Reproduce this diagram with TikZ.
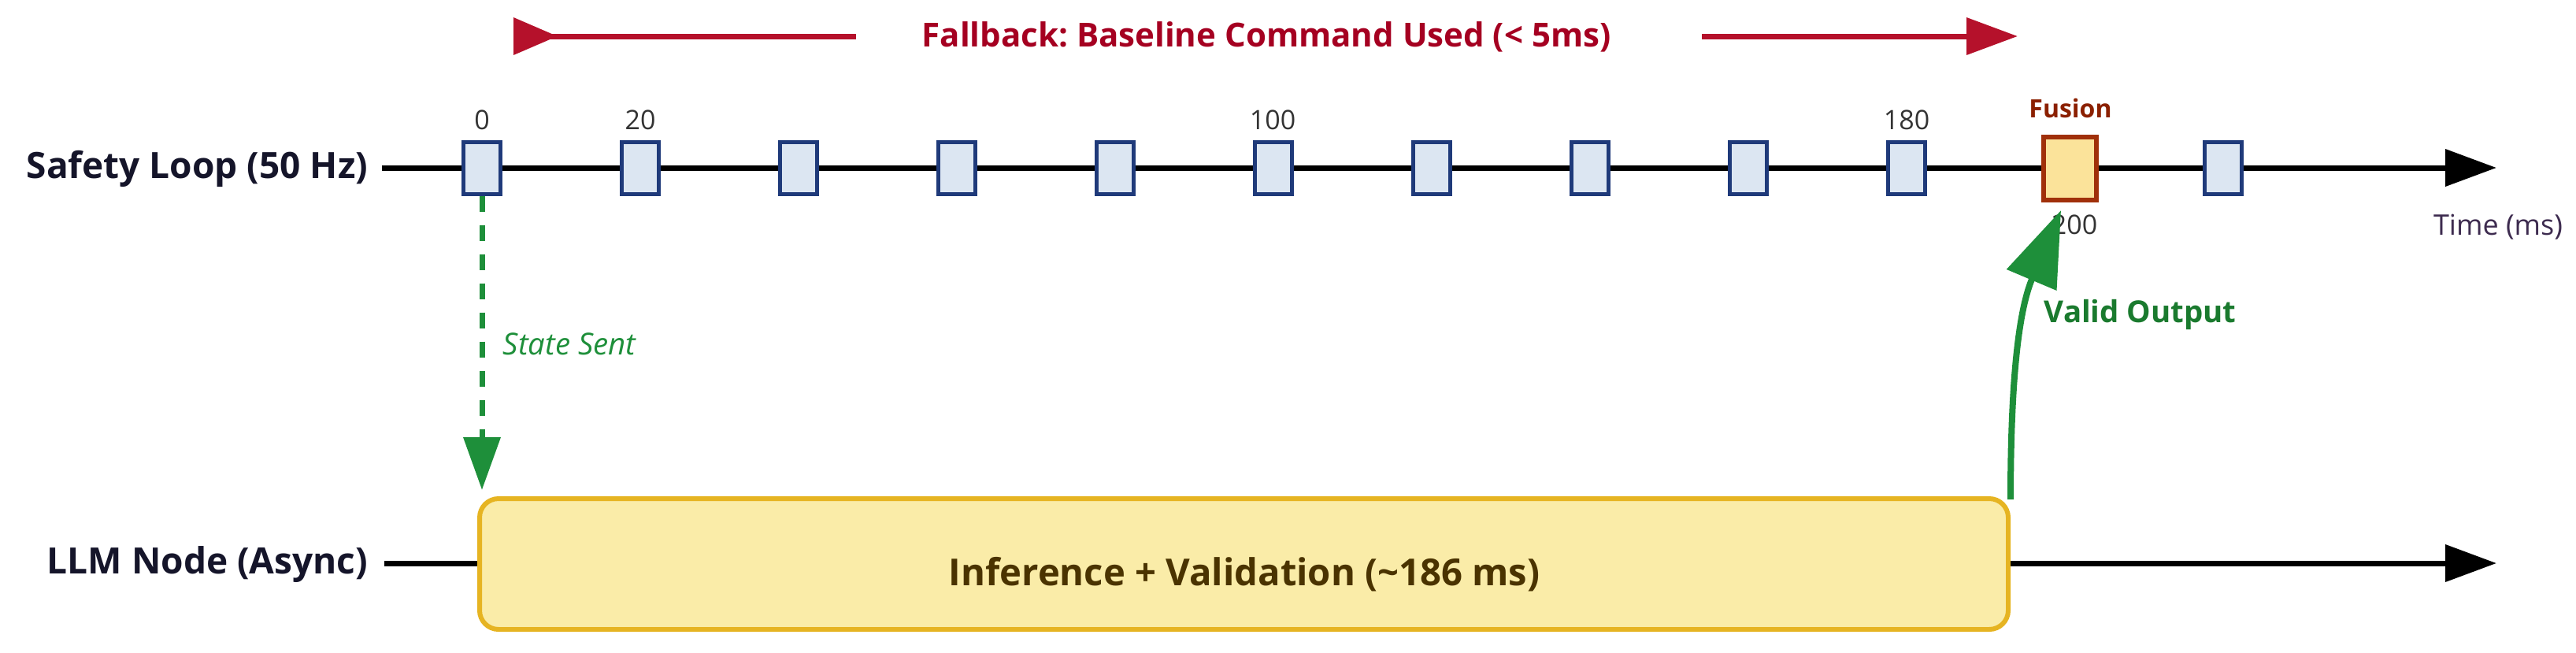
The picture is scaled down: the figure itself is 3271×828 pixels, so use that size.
\documentclass[tikz,border=0pt]{standalone}
\usepackage{fontspec}
\setmainfont{Open Sans}
\usetikzlibrary{arrows.meta}
\frenchspacing
\definecolor{tickbluefill}{HTML}{DCE6F2}
\definecolor{tickblueline}{HTML}{1F3A7A}
\definecolor{fusfill}{HTML}{FBE39A}
\definecolor{fusline}{HTML}{A0300A}
\definecolor{fustext}{HTML}{8B2000}
\definecolor{llmfill}{HTML}{FAECA8}
\definecolor{llmline}{HTML}{E6B422}
\definecolor{inftext}{HTML}{4A3300}
\definecolor{fbred}{HTML}{B5112B}
\definecolor{fbtext}{HTML}{A50021}
\definecolor{grarrow}{HTML}{1E8F3A}
\definecolor{grtext}{HTML}{1A7A2E}
\definecolor{lanetext}{HTML}{15152A}
\definecolor{ticktext}{HTML}{333333}
\definecolor{timetext}{HTML}{3D2B4F}
\tikzset{
  tickbox/.style={draw=tickblueline, fill=tickbluefill, line width=1.25pt, minimum width=11.75pt, minimum height=16.5pt, inner sep=0pt},
  fusbox/.style={draw=fusline, fill=fusfill, line width=1.5pt, minimum width=16.75pt, minimum height=20pt, inner sep=0pt},
  lanelabel/.style={font=\fontsize{11.5}{13}\selectfont\bfseries, text=lanetext, inner sep=0pt, anchor=east},
  ticklabel/.style={font=\fontsize{8.5}{10}\selectfont, text=ticktext, inner sep=0pt},
  lane/.style={line width=1.75pt, black},
  laneend/.style={-{Triangle[length=16.25pt,width=11.5pt]}},
}
\begin{document}
\begin{tikzpicture}[x=0.25pt,y=-0.25pt]
\useasboundingbox (0,0) rectangle (3271,828);
% lane labels
\node[lanelabel] (sl) at (468,214) {Safety Loop (50 Hz)};
\node[lanelabel] (ll) at (468,717) {LLM Node (Async)};
% safety loop line
\coordinate (slstart) at (485,213);
\coordinate (slend) at (3170,213);
\draw[lane, laneend] (slstart) -- (slend);
% tick boxes
\foreach \k in {0,1,2,3,4,5,6,7,8,9,11} {
  \node[tickbox] (b\k) at ({612+201*\k},213) {};
}
\node[fusbox] (fus) at (2628,214) {};
% tick labels
\node[ticklabel] (t0) at (612,152) {0};
\node[ticklabel] (t20) at (813,152) {20};
\node[ticklabel] (t100) at (1616,152) {100};
\node[ticklabel] (t180) at (2421,152) {180};
\node[ticklabel] (t200) at (2634,285) {200};
\node[font=\fontsize{8}{10}\selectfont\bfseries, text=fustext, inner sep=0pt] (fl) at (2629,137) {Fusion};
\node[font=\fontsize{9}{11}\selectfont, text=timetext, inner sep=0pt] (tm) at (3172,288) {Time (ms)};
% fallback arrow
\node[font=\fontsize{10.5}{13}\selectfont\bfseries, text=fbtext, inner sep=0pt] (fb) at (1608,47) {Fallback: Baseline Command Used (< 5ms)};
\coordinate (fba) at (652,46);
\coordinate (fbb) at (1087,46);
\coordinate (fbc) at (2161,46);
\coordinate (fbd) at (2562,46);
\draw[fbred, line width=1.75pt, {Triangle[reversed,length=14pt,width=11.5pt]}-] (fba) -- (fbb);
\draw[fbred, line width=1.75pt, -{Triangle[length=16.25pt,width=11.5pt]}] (fbc) -- (fbd);
% LLM box
\node[draw=llmline, fill=llmfill, line width=1.5pt, rounded corners=6pt, minimum width=485.25pt, minimum height=41.5pt, inner sep=0pt] (llm) at (1579.5,716) {};
\node[font=\fontsize{11.8}{14}\selectfont\bfseries, text=inftext, inner sep=0pt] (inf) at (1580,729) {Inference + Validation (\textasciitilde186 ms)};
\coordinate (llstart) at (488,715);
\coordinate (llend) at (3170,715);
\draw[lane] (llstart) -- (llm.west |- llstart);
\draw[lane, laneend] (llm.east |- llend) -- (llend);
% state sent
\coordinate (ssend) at (612,622);
\draw[grarrow, line width=1.75pt, dash pattern=on 5pt off 4.25pt, -{Triangle[length=16.75pt,width=11.5pt]}] (b0.south) -- (ssend);
\node[font=\fontsize{9.6}{11}\selectfont\itshape, text=grarrow, inner sep=0pt, anchor=west] (ss) at (638,437) {State Sent};
% valid output
\coordinate (vostart) at (2553,634);
\coordinate (voend) at (2617,267);
\draw[grarrow, line width=2pt, -{Triangle[length=24pt,width=16.75pt]}] (vostart) .. controls (2553,470) and (2565,390) .. (voend);
\node[font=\fontsize{9.6}{12}\selectfont\bfseries, text=grtext, inner sep=0pt, anchor=west] (vo) at (2595,400) {Valid Output};
\end{tikzpicture}
\end{document}
